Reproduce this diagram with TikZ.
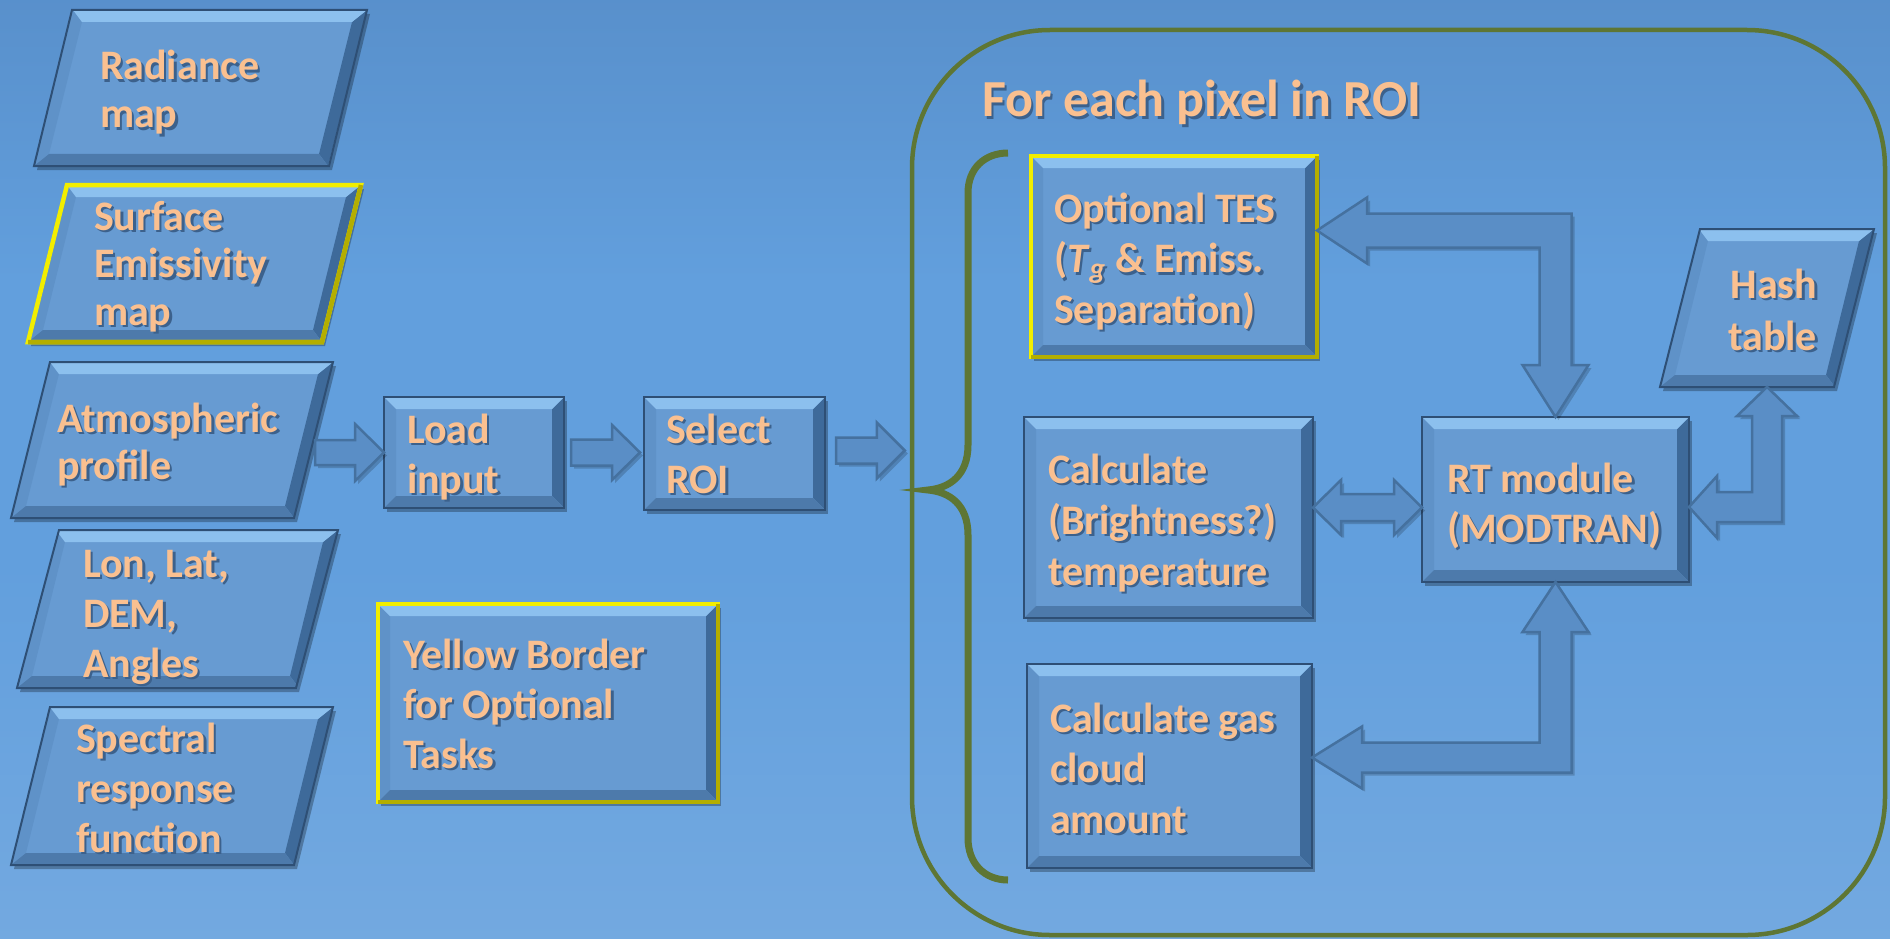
\documentclass[tikz,border=0pt]{standalone}
\usepackage{fontspec}
\setmainfont{Carlito}
\usetikzlibrary{calc,shadows}

\definecolor{peach}{HTML}{FAC090}
\definecolor{tshadow}{HTML}{3C618C}
\definecolor{bgtop}{HTML}{4475AA}
\definecolor{bgup}{HTML}{5286C0}
\definecolor{bgmid}{HTML}{629FDD}
\definecolor{bgbot}{HTML}{88B5E4}
\definecolor{face}{HTML}{679BD2}
\definecolor{bevT}{HTML}{8CC0EE}
\definecolor{bevL}{HTML}{5F92C8}
\definecolor{bevR}{HTML}{3E6A9A}
\definecolor{bevB}{HTML}{4D7AAB}
\definecolor{edgec}{HTML}{2E4F75}
\definecolor{yel}{HTML}{F2EE00}
\definecolor{yeldark}{HTML}{B4AE00}
\definecolor{arrfill}{HTML}{5A8EC6}
\definecolor{arredge}{HTML}{45719F}
\definecolor{olivec}{HTML}{5E7634}

\pgfdeclareverticalshading{bgshade}{100bp}{color(0bp)=(bgbot); color(45bp)=(bgmid); color(60bp)=(bgmid); color(85bp)=(bgup); color(100bp)=(bgtop)}

\newcommand\sh[1]{\rlap{\kern2.5pt\raisebox{-2.5pt}{\textcolor{tshadow}{#1}}}#1}
\newcommand\lns[2][l]{\begin{tabular}[t]{@{}#1@{}}#2\end{tabular}}
% parallelogram drawn over the bounding frame of node #1 (offset #2)
\newcommand\para[3][]{\path[pshape,#1] ($(#2.north west)+(#3,0)$) -- (#2.north east) -- ($(#2.south east)+(-#3,0)$) -- (#2.south west) -- cycle;}

\begin{document}
\begin{tikzpicture}[x=1pt,y=-1pt,
  bevel/.style={path picture={
    \coordinate (pA) at ($(path picture bounding box.north west)+(#1,0)$);
    \coordinate (pB) at (path picture bounding box.north east);
    \coordinate (pC) at ($(path picture bounding box.south east)+(-#1,0)$);
    \coordinate (pD) at (path picture bounding box.south west);
    \coordinate (qA) at ($(pA)+({12-0.077*#1},12)$);
    \coordinate (qB) at ($(pB)+({-12-0.077*#1},12)$);
    \coordinate (qC) at ($(pC)+({-12+0.077*#1},-12)$);
    \coordinate (qD) at ($(pD)+({12+0.077*#1},-12)$);
    \fill[bevL] (pA) -- (pD) -- (qD) -- (qA) -- cycle;
    \fill[bevR] (pB) -- (pC) -- (qC) -- (qB) -- cycle;
    \fill[bevT] (pA) -- (pB) -- (qB) -- (qA) -- cycle;
    \fill[bevB] (pD) -- (pC) -- (qC) -- (qD) -- cycle;
  }},
  shadowed/.style={drop shadow={shadow xshift=3pt, shadow yshift=-4pt, opacity=0.28, fill=black}},
  rbox/.style={shape=rectangle, inner sep=0pt, outer sep=0pt, fill=face, draw=edgec, line width=2pt, bevel=0, shadowed},
  pframe/.style={shape=rectangle, inner sep=0pt, outer sep=0pt},
  pshape/.style={fill=face, draw=edgec, line width=2pt, line join=miter, bevel=39, shadowed},
  ybord/.style={draw=yel, line width=4.5pt},
  ydark/.style={draw=yeldark, line width=4.5pt, line join=miter},
  barrow/.style={fill=arrfill, draw=arredge, line width=2.5pt, line join=miter, drop shadow={shadow xshift=3pt, shadow yshift=-3pt, opacity=0.18, fill=black}},
  lbl/.style={anchor=base west, inner sep=0pt, outer sep=0pt, text=peach, font=\fontsize{42}{50}\selectfont\bfseries},
  loopbox/.style={draw=olivec, line width=4.5pt, rounded corners=138pt, inner sep=0pt},
  bracel/.style={draw=olivec, line width=7pt}
]
\useasboundingbox (0,0) rectangle (1890,939);
\shade[shading=bgshade] (0,0) rectangle (1890,939);

% loop frame and brace
\node[loopbox, minimum width=973pt, minimum height=905pt] (loop) at (1398.5,482.5) {};
\draw[bracel] (1008,153) .. controls (985,153) and (968,168) .. (968,193) -- (968,445)
  .. controls (968,475) and (950,488) .. (928,490)
  .. controls (950,492) and (968,505) .. (968,535) -- (968,838)
  .. controls (968,864) and (985,880) .. (1008,880);

% input parallelograms
\node[pframe, minimum width=333pt, minimum height=156pt] (rad) at (200.5,88) {};
\para{rad}{38}
\node[pframe, minimum width=333pt, minimum height=157pt] (surf) at (194.5,263.5) {};
\para[ybord]{surf}{39}
\draw[ydark] (surf.north east) -- ($(surf.south east)+(-39,0)$) -- (surf.south west);
\node[pframe, minimum width=322pt, minimum height=156pt] (atm) at (172,440) {};
\para{atm}{39}
\node[pframe, minimum width=321pt, minimum height=158pt] (lon) at (177.5,609) {};
\para{lon}{42}
\node[pframe, minimum width=322pt, minimum height=158pt] (spec) at (172,786) {};
\para{spec}{39}

% process boxes
\node[rbox, minimum width=180pt, minimum height=111pt] (load) at (474,452.5) {};
\node[rbox, minimum width=181pt, minimum height=113pt] (select) at (734.5,453.5) {};
\node[rbox, ybord, minimum width=340pt, minimum height=198pt] (legend) at (548,703) {};
\draw[ydark] (legend.north east) -- (legend.south east) -- (legend.south west);
\node[rbox, ybord, minimum width=286pt, minimum height=201pt] (tes) at (1174,256.5) {};
\draw[ydark] (tes.north east) -- (tes.south east) -- (tes.south west);
\node[rbox, minimum width=289pt, minimum height=201pt] (calc) at (1168.5,517.5) {};
\node[rbox, minimum width=285pt, minimum height=204pt] (gas) at (1169.5,766) {};
\node[rbox, minimum width=267pt, minimum height=165pt] (rt) at (1555.5,499.5) {};
\node[pframe, minimum width=214pt, minimum height=158pt] (hash) at (1767,308) {};
\para{hash}{40}

% arrows: atm -> load
\coordinate (a1s) at ($(atm.east |- load.west)+(-18,0)$);
\coordinate (a1t) at (load.west);
\draw[barrow] ($(a1s)+(0,-12.5)$) -- ($(a1t)+(-29,-12.5)$) -- ($(a1t)+(-29,-28.5)$) -- (a1t)
  -- ($(a1t)+(-29,28.5)$) -- ($(a1t)+(-29,12.5)$) -- ($(a1s)+(0,12.5)$) -- cycle;
% load -> select
\coordinate (a2s) at ($(load.east)+(7,0)$);
\coordinate (a2t) at ($(load.east -| select.west)+(-4,0)$);
\draw[barrow] ($(a2s)+(0,-13)$) -- ($(a2t)+(-28,-13)$) -- ($(a2t)+(-28,-27.5)$) -- (a2t)
  -- ($(a2t)+(-28,27.5)$) -- ($(a2t)+(-28,13)$) -- ($(a2s)+(0,13)$) -- cycle;
% select -> loop
\coordinate (a3s) at ($(select.east)+(11,-3)$);
\coordinate (a3t) at ($(loop.west |- select.east)+(-5,-3)$);
\draw[barrow] ($(a3s)+(0,-13)$) -- ($(a3t)+(-28,-13)$) -- ($(a3t)+(-28,-28)$) -- (a3t)
  -- ($(a3t)+(-28,28)$) -- ($(a3t)+(-28,13)$) -- ($(a3s)+(0,13)$) -- cycle;

% tes <-> rt
\coordinate (e1) at ($(tes.east)+(0,-26)$);
\coordinate (e2) at (rt.north);
\coordinate (e12) at (e1 -| e2);
\draw[barrow] (e1) -- ($(e1)+(50,-33)$) -- ($(e1)+(50,-17)$) -- ($(e12)+(16,-17)$)
  -- ($(e2)+(16,-52)$) -- ($(e2)+(33,-52)$) -- (e2) -- ($(e2)+(-33,-52)$) -- ($(e2)+(-16,-52)$)
  -- ($(e12)+(-16,17)$) -- ($(e1)+(50,17)$) -- ($(e1)+(50,33)$) -- cycle;

% calc <-> rt
\coordinate (d0) at ($(rt.west)+(0,8)$);
\coordinate (dL) at (calc.east |- d0);
\draw[barrow] (dL) -- ($(dL)+(28,-27.5)$) -- ($(dL)+(28,-13.5)$) -- ($(d0)+(-28,-13.5)$)
  -- ($(d0)+(-28,-27.5)$) -- (d0) -- ($(d0)+(-28,27.5)$) -- ($(d0)+(-28,13.5)$)
  -- ($(dL)+(28,13.5)$) -- ($(dL)+(28,27.5)$) -- cycle;

% rt <-> hash
\coordinate (h1) at ($(rt.east)+(0,7.5)$);
\coordinate (h2) at (hash.south);
\coordinate (h12) at (h1 -| h2);
\draw[barrow] (h1) -- ($(h1)+(28,-31)$) -- ($(h1)+(28,-15)$) -- ($(h12)+(-15,-15)$)
  -- ($(h2)+(-15,29)$) -- ($(h2)+(-30,29)$) -- (h2) -- ($(h2)+(30,29)$) -- ($(h2)+(15,29)$)
  -- ($(h12)+(15,15)$) -- ($(h1)+(28,15)$) -- ($(h1)+(28,31)$) -- cycle;

% rt <-> gas
\coordinate (g1) at (rt.south);
\coordinate (g2) at ($(gas.east)+(0,-8.5)$);
\coordinate (g12) at (g1 |- g2);
\draw[barrow] (g1) -- ($(g1)+(33,50)$) -- ($(g1)+(16,50)$) -- ($(g12)+(16,15)$)
  -- ($(g2)+(50,15)$) -- ($(g2)+(50,31)$) -- (g2) -- ($(g2)+(50,-31)$) -- ($(g2)+(50,-15)$)
  -- ($(g12)+(-16,-15)$) -- ($(g1)+(-16,50)$) -- ($(g1)+(-33,50)$) -- cycle;

% texts
\node[lbl, font=\fontsize{52}{60}\selectfont\bfseries] (title) at (982,117) {\sh{For each pixel in ROI}};
\node[lbl, font=\fontsize{42}{48}\selectfont\bfseries] (trad) at (100,80) {\lns{\sh{Radiance}\\\sh{map}}};
\node[lbl, font=\fontsize{42}{47.5}\selectfont\bfseries] (tsurf) at (94,230) {\lns{\sh{Surface}\\\sh{Emissivity}\\\sh{map}}};
\node[lbl, font=\fontsize{42}{47}\selectfont\bfseries] (tatm) at (57,432) {\lns{\sh{Atmospheric}\\\sh{profile}}};
\node[lbl] (tlon) at (83,577) {\lns{\sh{Lon, Lat,}\\\sh{DEM,}\\\sh{Angles}}};
\node[lbl] (tspec) at (76,752) {\lns{\sh{Spectral}\\\sh{response}\\\sh{function}}};
\node[lbl] (tload) at (407,443) {\lns{\sh{Load}\\\sh{input}}};
\node[lbl] (tselect) at (666,443) {\lns{\sh{Select}\\\sh{ROI}}};
\node[lbl] (tlegend) at (403,668) {\lns{\sh{Yellow Border}\\\sh{for Optional}\\\sh{Tasks}}};
\node[lbl, font=\fontsize{42}{50.5}\selectfont\bfseries] (ttes) at (1054,222) {\lns{\sh{Optional TES}\\\sh{(\textit{T}\textsubscript{\textit{g}} \& Emiss.}\\\sh{Separation)}}};
\node[lbl, font=\fontsize{42}{51}\selectfont\bfseries] (tcalc) at (1048,483) {\lns{\sh{Calculate}\\\sh{(Brightness?)}\\\sh{temperature}}};
\node[lbl, font=\fontsize{42}{50.5}\selectfont\bfseries] (tgas) at (1050,732) {\lns{\sh{Calculate gas}\\\sh{cloud}\\\sh{amount}}};
\node[lbl] (trt) at (1447,492) {\lns{\sh{RT module}\\\sh{(MODTRAN)}}};
\node[lbl, anchor=base east, font=\fontsize{42}{52}\selectfont\bfseries] (thash) at (1817,298) {\lns[r]{\sh{Hash}\\\sh{table}}};
\end{tikzpicture}
\end{document}
